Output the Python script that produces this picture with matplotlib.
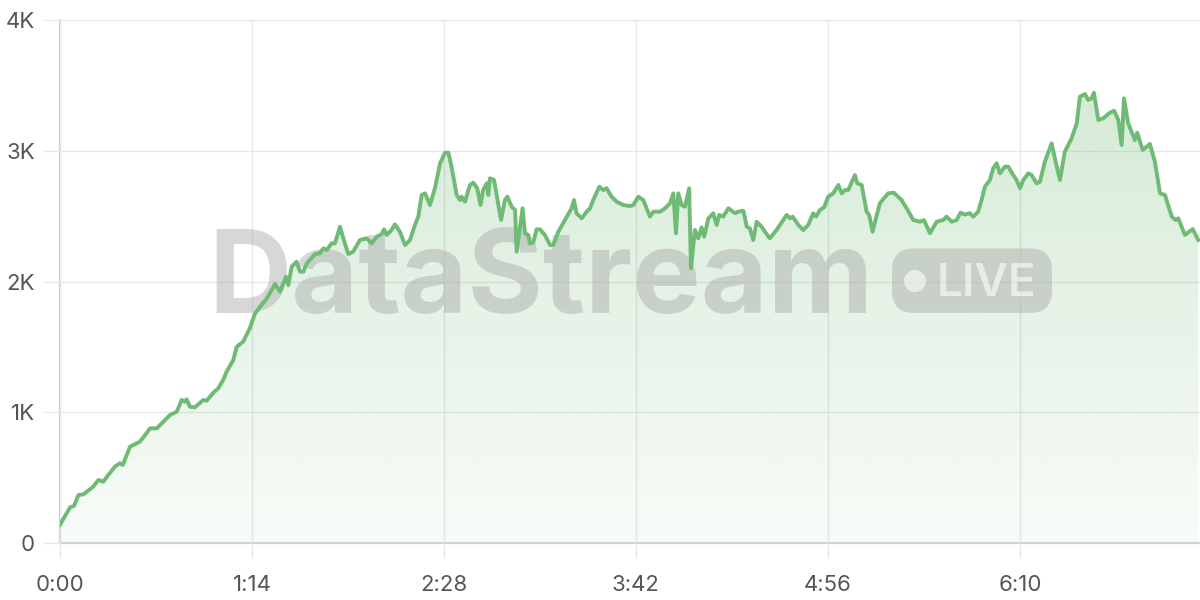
import numpy as np
import matplotlib.pyplot as plt
from matplotlib.ticker import FuncFormatter, FixedLocator
from matplotlib.patches import FancyBboxPatch, Circle

# viewers over time (seconds since start)
seconds = [0, 3.9, 5.4, 7.1, 9.0, 12.8, 14.8, 16.7, 18.6, 21.2, 23.1, 24.2, 27.0, 30.8, 32.8,
           34.7, 37.3, 40.5, 42.4, 45.0, 46.9, 48.2, 48.8, 50.1, 52.0, 55.2, 56.5, 59.1, 61.0,
           62.9, 64.2, 66.8, 68.1, 70.6, 73.2, 75.2, 77.1, 79.7, 82.9, 84.8, 87.1, 88.0, 89.3,
           91.2, 92.5, 93.8, 95.1, 98.3, 100.2, 101.5, 102.8, 104.7, 106.0, 107.9, 109.8, 111.1,
           113.0, 115.6, 118.2, 120.1, 122.1, 124.0, 124.9, 125.9, 127.8, 129.1, 131.0, 133.0,
           134.9, 136.8, 138.1, 139.4, 140.7, 142.6, 144.5, 146.5, 148.4, 149.7, 150.9, 152.9,
           154.2, 154.8, 156.1, 158.0, 159.3, 160.8, 162.1, 163.1, 164.5, 165.1, 165.7, 167.3,
           170.0, 171.5, 172.4, 174.1, 175.4, 176.0, 178.3, 179.2, 180.5, 181.1, 182.4, 183.7,
           185.0, 186.9, 188.9, 190.1, 192.1, 194.6, 197.2, 198.1, 199.1, 201.1, 203.0, 204.3,
           205.5, 207.9, 209.4, 210.7, 212.6, 214.6, 217.1, 219.7, 221.0, 222.9, 224.8, 227.4,
           228.7, 231.3, 233.2, 235.1, 236.4, 237.4, 238.3, 239.6, 240.9, 242.5, 243.2, 244.7,
           246.0, 247.3, 248.3, 249.9, 251.8, 253.1, 254.1, 255.6, 257.6, 260.2, 261.4, 263.4,
           264.7, 265.9, 267.2, 268.5, 270.4, 271.7, 273.6, 276.2, 280.1, 281.4, 282.4, 284.6,
           286.5, 288.4, 290.3, 291.4, 292.9, 294.5, 296.1, 298.0, 300.0, 301.3, 302.6, 303.8,
           306.4, 307.3, 309.0, 310.9, 311.9, 313.2, 316.0, 319.2, 321.4, 324.4, 326.3, 328.9,
           331.5, 333.0, 335.3, 337.9, 340.4, 341.7, 343.7, 345.6, 347.1, 348.8, 350.7, 352.0,
           353.9, 355.2, 356.5, 358.4, 359.7, 361.0, 362.3, 364.2, 365.5, 367.4, 368.7, 370.0,
           371.3, 373.2, 374.5, 376.4, 377.7, 379.6, 382.2, 383.9, 385.4, 387.3, 389.9, 391.9,
           393.1, 395.1, 396.3, 397.6, 398.5, 400.2, 402.1, 404.7, 406.3, 407.9, 409.2, 410.1,
           411.7, 414.3, 415.2, 417.3, 420.1, 422.0, 424.0, 425.9, 428.5, 430.1, 431.0, 433.6,
           436.6, 438.7]
viewers = [140, 273, 283, 367, 372, 431, 482, 469, 520, 584, 610, 597, 737, 775, 826,
           877, 877, 941, 979, 1004, 1094, 1081, 1099, 1042, 1038, 1094, 1088, 1149, 1183,
           1247, 1310, 1400, 1500, 1540, 1644, 1757, 1807, 1871, 1981, 1922, 2037, 1973, 2113,
           2151, 2075, 2075, 2139, 2210, 2216, 2254, 2241, 2292, 2292, 2419, 2292, 2210,
           2228, 2317, 2330, 2292, 2343, 2363, 2399, 2356, 2394, 2437, 2381, 2279,
           2317, 2432, 2496, 2662, 2674, 2585, 2713, 2904, 2985, 2985, 2878, 2662,
           2623, 2649, 2610, 2738, 2756, 2713, 2585, 2700, 2751, 2662, 2789, 2776,
           2470, 2623, 2649, 2572, 2547, 2228, 2560, 2369, 2356, 2292, 2297, 2399,
           2399, 2356, 2279, 2279, 2381, 2470, 2560, 2623, 2522, 2483, 2534, 2560,
           2623, 2725, 2700, 2713, 2649, 2610, 2585, 2577, 2585, 2649, 2623, 2496,
           2534, 2534, 2560, 2598, 2674, 2369, 2674, 2585, 2572, 2713, 2101, 2394,
           2330, 2414, 2343, 2483, 2522, 2432, 2509, 2496, 2560, 2522, 2534, 2541,
           2419, 2407, 2317, 2457, 2419, 2381, 2330, 2394, 2509, 2483, 2496, 2432,
           2394, 2432, 2522, 2496, 2547, 2567, 2649, 2674, 2738, 2674, 2700, 2700,
           2814, 2751, 2738, 2534, 2509, 2381, 2598, 2674, 2679, 2623, 2560, 2470,
           2457, 2470, 2369, 2457, 2470, 2496, 2457, 2470, 2526, 2512, 2522, 2496,
           2534, 2623, 2725, 2776, 2866, 2904, 2827, 2878, 2878, 2814, 2776, 2713,
           2776, 2827, 2814, 2751, 2763, 2916, 3057, 2904, 2776, 2993, 3095, 3210,
           3413, 3434, 3388, 3401, 3444, 3235, 3248, 3291, 3306, 3235, 3044, 3401,
           3210, 3082, 3138, 3006, 3052, 2916, 2674, 2662, 2496, 2470, 2483, 2356,
           2401, 2317]

x_ticks = [0, 74, 148, 222, 296, 370]
y_ticks = [0, 1000, 2000, 3000, 4000]
x_max = 439.4
y_max = 4000

line_color = '#6fba74'
text_color = '#555555'
font = ['Inter', 'DejaVu Sans']

plt.rcParams['font.family'] = font

fig = plt.figure(figsize=(12, 6), dpi=100)
ax = fig.add_axes([60 / 1200, 57 / 600, 1140 / 1200, 523 / 600])

# gradient area under the line
poly = ax.fill_between(seconds, viewers, 0, facecolor='none', edgecolor='none')
alpha = np.linspace(0.05, 0.33, 256)
grad = np.zeros((256, 1, 4))
grad[:, 0, :3] = [0x6f / 255, 0xba / 255, 0x74 / 255]
grad[:, 0, 3] = alpha
img = ax.imshow(grad, extent=[0, x_max, 0, y_max], aspect='auto', origin='lower',
                zorder=1, interpolation='bilinear')
img.set_clip_path(poly.get_paths()[0], transform=ax.transData)

ax.plot(seconds, viewers, color=line_color, lw=2.8, zorder=4, solid_joinstyle='round')

ax.set_xlim(0, x_max)
ax.set_ylim(0, y_max)
ax.xaxis.set_major_locator(FixedLocator(x_ticks))
ax.yaxis.set_major_locator(FixedLocator(y_ticks))
ax.xaxis.set_major_formatter(FuncFormatter(lambda s, p: '%d:%02d' % (int(s) // 60, int(s) % 60)))
ax.yaxis.set_major_formatter(FuncFormatter(lambda v, p: '0' if v == 0 else '%dK' % (v / 1000)))

ax.grid(True, color='#e8e8e8', lw=1.0, zorder=0)
ax.set_axisbelow(True)
for side in ['top', 'right']:
    ax.spines[side].set_visible(False)
for side in ['left', 'bottom']:
    ax.spines[side].set_color('#d0d0d0')
    ax.spines[side].set_linewidth(1.6)
    ax.spines[side].set_zorder(0.5)
ax.tick_params(axis='x', length=11, width=1.0, color='#e8e8e8', pad=12,
               labelsize=16, labelcolor=text_color)
ax.tick_params(axis='y', length=12, width=1.0, color='#e8e8e8', pad=6,
               labelsize=16, labelcolor=text_color)

# watermark
wm = fig.dpi_scale_trans
ax.text(2.08, 2.87, 'DataStream', transform=wm, fontsize=83, fontweight='bold',
        color='#a8a8a8', alpha=0.45, ha='left', va='baseline', zorder=2, family=font)
box = FancyBboxPatch((8.92, 2.87), 1.60, 0.645, boxstyle='round,pad=0,rounding_size=0.22',
                     transform=wm, facecolor='#a8a8a8', edgecolor='none', alpha=0.45, zorder=2)
ax.add_patch(box)
ax.add_patch(Circle((9.15, 3.19), 0.11, transform=wm, facecolor='white', alpha=0.6,
                    edgecolor='none', zorder=2.5))
ax.text(9.37, 3.04, 'LIVE', transform=wm, fontsize=33, fontweight='semibold', color='white',
        alpha=0.6, ha='left', va='baseline', zorder=2.5, family=font)

fig.savefig('out.png', dpi=100)
